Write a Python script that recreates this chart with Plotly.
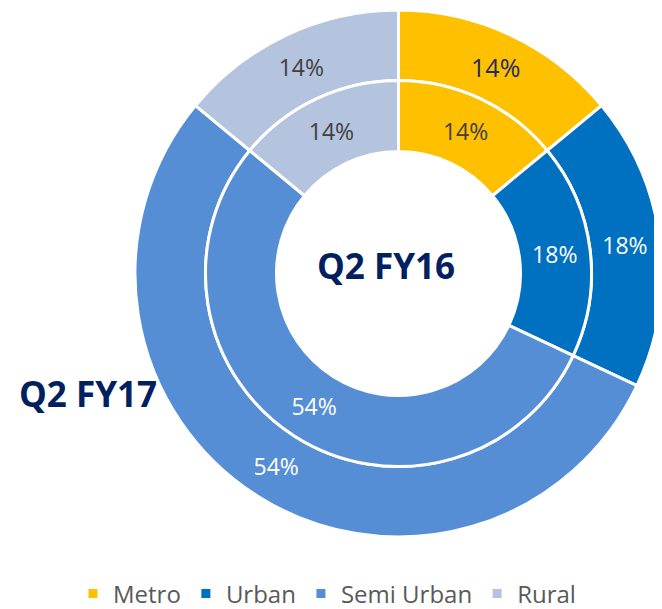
import plotly.graph_objects as go

# ---- data ----
categories = ["Metro", "Urban", "Semi Urban", "Rural"]
q2_fy17 = [14, 18, 54, 14]   # outer ring
q2_fy16 = [14, 18, 54, 14]   # inner ring
colors = ["#FFC000", "#0070C0", "#558ED5", "#B4C4DE"]
outer_text_colors = ["#1F2D5E", "#FFFFFF", "#FFFFFF", "#404040"]
inner_text_colors = ["#404040", "#FFFFFF", "#FFFFFF", "#404040"]
outer_text_sizes = [25, 23, 23, 23]
inner_text_sizes = [23, 23, 23, 23]
outer_title = "Q2 FY17"
inner_title = "Q2 FY16"

# page body has an 8px margin -> figure slightly smaller, coords shifted
OFF = 8
W, H = 662 - OFF, 609 - OFF
CX, CY = 398.5 - OFF, 273.5 - OFF    # pixel centre (from top of figure)
R_OUT = min(266.0, W - CX)
R_MID, R_HOLE = 193.0, 122.0


def domain(r):
    cy_b = H - CY
    return dict(x=[(CX - r) / W, min(1.0, (CX + r) / W)],
                y=[(cy_b - r) / H, (cy_b + r) / H])


FONT = "Open Sans, Noto Sans, sans-serif"

fig = go.Figure()
fig.add_trace(go.Pie(
    labels=categories, values=q2_fy17, name=outer_title,
    hole=R_MID / R_OUT, sort=False, direction="clockwise", rotation=0,
    marker=dict(colors=colors, line=dict(color="white", width=3)),
    texttemplate="%{value}%", textposition="inside",
    insidetextorientation="horizontal",
    textfont=dict(color=outer_text_colors, size=outer_text_sizes, family=FONT),
    domain=domain(R_OUT), showlegend=True,
))
fig.add_trace(go.Pie(
    labels=categories, values=q2_fy16, name=inner_title,
    hole=R_HOLE / R_MID, sort=False, direction="clockwise", rotation=0,
    marker=dict(colors=colors, line=dict(color="white", width=3)),
    texttemplate="%{value}%", textposition="inside",
    insidetextorientation="horizontal",
    textfont=dict(color=inner_text_colors, size=inner_text_sizes, family=FONT),
    domain=domain(R_MID), showlegend=False,
))

fig.add_annotation(text=f"<b>{inner_title}</b>", x=(386 - OFF) / W,
                   y=(H - (265 - OFF)) / H, xanchor="center", yanchor="middle",
                   xref="paper", yref="paper", showarrow=False,
                   font=dict(size=35, color="#002060", family=FONT))
fig.add_annotation(text=f"<b>{outer_title}</b>", x=(87.5 - OFF) / W,
                   y=(H - (393.5 - OFF)) / H, xanchor="center", yanchor="middle",
                   xref="paper", yref="paper", showarrow=False,
                   font=dict(size=35, color="#002060", family=FONT))

fig.update_layout(
    width=W, height=H,
    margin=dict(l=0, r=0, t=0, b=0, autoexpand=False),
    paper_bgcolor="white", plot_bgcolor="white",
    font=dict(family=FONT),
    legend=dict(orientation="h", x=(73 - OFF) / W, xanchor="left",
                y=(H - (594 - OFF)) / H, yanchor="middle",
                font=dict(size=24, color="#595959", family=FONT),
                bgcolor="rgba(0,0,0,0)"),
)

fig.write_html("out.html")
